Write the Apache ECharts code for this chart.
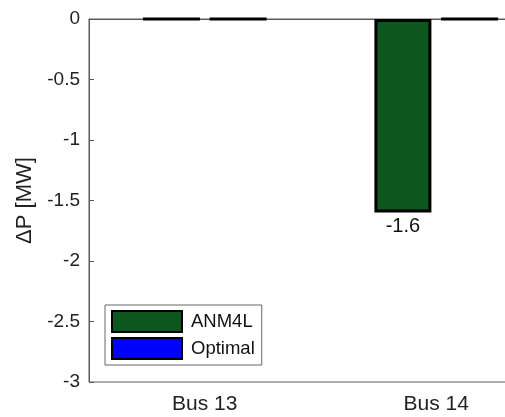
<!DOCTYPE html>
<html><head><meta charset="utf-8">
<script src="https://cdn.jsdelivr.net/npm/echarts@6/dist/echarts.min.js"></script>
<style>html,body{margin:0;padding:0;background:#fff}#c{width:505px;height:417px}</style>
</head><body><div id="c"></div>
<script>
const categories = ['Bus 13', 'Bus 14'];
const anm4l = [0, -1.6];
const optimal = [0, 0];
const yTicks = [-3, -2.5, -2, -1.5, -1, -0.5, 0];

const font = 'Liberation Sans, Arial, sans-serif';
const chart = echarts.init(document.getElementById('c'), null, {renderer: 'canvas'});
function mk(vals) {
  return vals.map(v => ({
    value: v,
    label: {show: v !== 0}
  }));
}
chart.setOption({
  animation: false,
  grid: {left: 89, top: 19, width: 463, height: 363, outerBoundsMode: 'none', containLabel: false,
    show: true, borderColor: '#5a5a5a', borderWidth: 1, backgroundColor: '#fff'},
  xAxis: {
    type: 'category', data: categories,
    axisLine: {show: true, lineStyle: {color: '#5a5a5a'}},
    axisTick: {show: false},
    axisLabel: {color: '#222', fontSize: 21, fontFamily: font, margin: 12}
  },
  yAxis: {
    type: 'value', min: -3, max: 0, interval: 0.5,
    name: 'ΔP [MW]', nameLocation: 'middle', nameGap: 46,
    nameTextStyle: {color: '#222', fontSize: 22, fontFamily: font},
    axisLine: {show: true, lineStyle: {color: '#5a5a5a'}},
    axisTick: {show: true, inside: true, length: 5, lineStyle: {color: '#5a5a5a'}},
    splitLine: {show: false},
    axisLabel: {color: '#222', fontSize: 19, fontFamily: font, margin: 9,
      formatter: v => yTicks.includes(v) ? String(v) : ''}
  },
  legend: {
    left: 105, top: 305, orient: 'vertical',
    itemWidth: 70, itemHeight: 21, itemGap: 4,
    padding: [5, 7, 5, 6],
    borderColor: '#666', borderWidth: 1, backgroundColor: '#fff',
    textStyle: {color: '#111', fontSize: 18.5, fontFamily: font, padding: [0, 0, 0, 4]},
    data: [{name: 'ANM4L', icon: 'rect'}, {name: 'Optimal', icon: 'rect'}]
  },
  series: [
    {name: 'ANM4L', type: 'bar', data: mk(anm4l), barWidth: 57, barGap: '17%',
      itemStyle: {color: '#0d561d', borderColor: '#000', borderWidth: 3},
      label: {position: 'bottom', distance: 4, color: '#111', fontSize: 20, fontFamily: font}},
    {name: 'Optimal', type: 'bar', data: mk(optimal), barWidth: 57,
      itemStyle: {color: '#0000ff', borderColor: '#000', borderWidth: 3},
      label: {position: 'bottom', distance: 4, color: '#111', fontSize: 20, fontFamily: font}}
  ]
});
</script></body></html>
